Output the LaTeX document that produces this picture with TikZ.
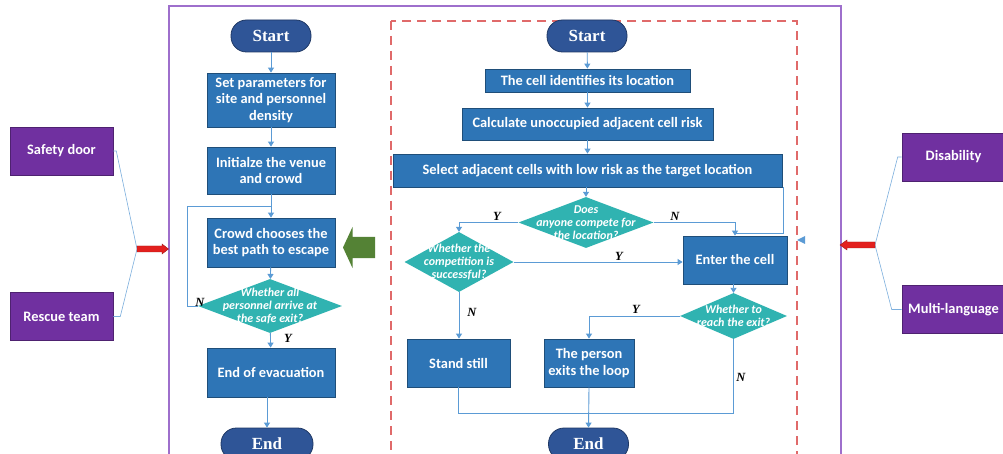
\documentclass[tikz,border=0pt]{standalone}
\usepackage{fontspec}
\setmainfont{Liberation Serif}
\newfontfamily\carl{Carlito}
\usetikzlibrary{shapes.geometric,arrows.meta,calc}
\definecolor{boxf}{HTML}{2E75B6}
\definecolor{boxb}{HTML}{1F4E79}
\definecolor{pillf}{HTML}{2F5597}
\definecolor{pillb}{HTML}{1F3864}
\definecolor{teal1}{HTML}{30B3B1}
\definecolor{purp}{HTML}{7030A0}
\definecolor{framec}{HTML}{9E6FCC}
\definecolor{dashr}{HTML}{E06A6A}
\definecolor{linec}{HTML}{5B9BD5}
\definecolor{greenc}{HTML}{548235}
\definecolor{redf}{HTML}{E3201E}
\definecolor{redb}{HTML}{9E1A1A}
\newcommand\boxfont{\carl\bfseries\fontsize{14.4}{16.5}\selectfont}
\newcommand\diafont{\carl\bfseries\itshape\fontsize{12}{13}\selectfont}
\newcommand\pillfont{\bfseries\fontsize{17}{19}\selectfont}
\newcommand\ynfont{\bfseries\itshape\fontsize{12.5}{14}\selectfont}
\tikzset{
  box/.style={draw=boxb, fill=boxf, text=white, font=\boxfont, align=center, inner sep=1pt, line width=0.8pt},
  pill/.style={draw=pillb, fill=pillf, text=white, font=\pillfont, rounded corners=15.5pt, minimum width=80pt, minimum height=32pt, line width=0.8pt},
  dia/.style={diamond, fill=teal1, draw=none, inner sep=0pt},
  dtext/.style={text=white, font=\diafont, align=center, inner sep=0pt},
  pbox/.style={fill=purp, draw=purp!70!black, text=white, font=\boxfont, minimum width=103pt, minimum height=48pt, line width=0.6pt},
  conn/.style={draw=linec, line width=0.9pt},
  arr/.style={conn, -{Triangle[length=5pt,width=6pt]}},
  thin/.style={draw=linec!80!white, line width=0.6pt},
  yn/.style={font=\ynfont, inner sep=0pt},
}
\begin{document}
\begin{tikzpicture}[x=1pt,y=-1pt]
\clip (0,0) rectangle (1003,454);
\fill[white] (0,0) rectangle (1003,454);
% frames
\draw[framec, line width=1.2pt] (169,6) rectangle (841,480);
\draw[dashr, line width=1.1pt, dash pattern=on 9pt off 6pt] (391,21) rectangle (797,480);

% ---------- left flowchart ----------
\node[pill] (s1) at (271,36) {Start};
\node[box, minimum width=128pt, minimum height=54pt] (b1) at (271,100) {Set parameters for\\site and personnel\\density};
\node[box, minimum width=128pt, minimum height=47pt] (b2) at (271,170.5) {Initialze the venue\\and crowd};
\node[box, minimum width=128pt, minimum height=49pt] (b3) at (271,242.5) {Crowd chooses the\\best path to escape};
\node[dia, minimum width=144pt, minimum height=54pt] (dl) at (270,306) {};
\node[dtext] (dlt) at (dl.center) {Whether all\\personnel arrive at\\the safe exit?};
\node[box, minimum width=128pt, minimum height=49pt] (b4) at (271,372.5) {End of evacuation};
\node[pill, minimum width=92pt] (e1) at (267,444) {End};

\draw[arr] (s1) -- (b1);
\draw[arr] (b1) -- (b2);
\draw[arr] (b2) -- (b3);
\draw[arr] (b3) -- (dl);
\draw[arr] (dl) -- (b4);
\draw[arr] (b4.south -| e1.north) -- (e1.north);
\coordinate (lpj) at ($(b2.south)!0.5!(b3.north)$);
\draw[conn] (dl.west) -- ++(-10,0) |- (lpj);
\node[yn] (nl) at (200,302) {N};
\node[yn] (yl) at (288,338) {Y};

% green arrow
\fill[greenc] (343,247.5) -- (352.5,227) -- (352.5,237) -- (375,237) -- (375,258) -- (352.5,258) -- (352.5,268) -- cycle;

% ---------- right flowchart ----------
\node[pill] (s2) at (587,36) {Start};
\node[box, minimum width=205pt, minimum height=23pt] (c1) at (587.5,80.5) {The cell identifies its location};
\node[box, minimum width=251pt, minimum height=32pt] (c2) at (587.5,124) {Calculate unoccupied adjacent cell risk};
\node[box, minimum width=389pt, minimum height=33pt] (sel) at (587.5,170.5) {Select adjacent cells with low risk as the target location};
\node[dia, minimum width=135pt, minimum height=51pt] (d1) at (586,222.5) {};
\node[dtext] at (d1.center) {Does\\anyone compete for\\the location?};
\node[dia, minimum width=109pt, minimum height=60pt] (d2) at (459,262) {};
\node[dtext] at (d2.center) {Whether the\\competition is\\successful?};
\node[box, minimum width=104pt, minimum height=48pt] (ec) at (735,260) {Enter the cell};
\node[dia, minimum width=107pt, minimum height=46pt] (d3) at (733.5,316) {};
\node[dtext] at (d3.center) {Whether to\\reach the exit?};
\node[box, minimum width=103pt, minimum height=48pt] (ss) at (458.5,363) {Stand still};
\node[box, minimum width=90pt, minimum height=48pt] (pe) at (589,363) {The person\\exits the loop};
\node[pill] (e2) at (588.5,444) {End};

\draw[arr] (s2) -- (c1);
\draw[arr] (c1) -- (c2);
\draw[arr] (c2) -- (sel);
\draw[arr] (sel.south -| d1.north) -- (d1.north);
\draw[arr] (d1.west) -| (d2.north);
\draw[arr] (d1.east) -| (ec.north);
\draw[conn] (sel.south east) ++(1,0) -- ++(0,46) -| ($(ec.north)+(0,-3)$);
\draw[arr] (d2.east) -- (d2.east -| ec.west);
\draw[arr] (d2.south) -- (d2.south |- ss.north);
\draw[arr] (ec.south -| d3.north) -- (d3.north);
\draw[arr] (d3.west) -| (pe.north);
\coordinate (mj) at (589,413);
\draw[conn] (d3.south) |- (mj);
\draw[conn] (ss.south) |- (mj);
\draw[arr] (pe.south) -- (e2.north);
\fill[linec] (797,240) -- (805,236) -- (805,244) -- cycle;

\node[yn] at (497,216) {Y};
\node[yn] at (675,216) {N};
\node[yn] at (619,256) {Y};
\node[yn] at (472,312) {N};
\node[yn] at (636,309) {Y};
\node[yn] at (741,377) {N};

% ---------- side boxes ----------
\node[pbox] (sd) at (61.5,151) {Safety door};
\node[pbox] (rt) at (61.5,316.5) {Rescue team};
\node[pbox] (dis) at (953.5,157) {Disability};
\node[pbox] (ml) at (953.5,309.5) {Multi-language};

\coordinate (lj) at (137,249);
\coordinate (rj) at (875,245);
\draw[thin] (sd.east) -- ++(3,0) -- (lj) -- ($(rt.east)+(7,0)$) -- (rt.east);
\draw[thin] (dis.west) -- ++(-4,0) -- (rj) -- ($(ml.west)+(-10,0)$) -- (ml.west);

% red arrows
\filldraw[fill=redf, draw=redb, line width=0.4pt] (lj) ++(0,-3) -- ++(25,0) -- ++(0,-2) -- (168.5,249) -- (162,254) -- ++(0,-2) -- ($(lj)+(0,3)$) -- cycle;
\filldraw[fill=redf, draw=redb, line width=0.4pt] (rj) ++(0,-3) -- ++(-28,0) -- ++(0,-2) -- (840,245) -- (847,250) -- ++(0,-2) -- ($(rj)+(0,3)$) -- cycle;
\end{tikzpicture}
\end{document}
